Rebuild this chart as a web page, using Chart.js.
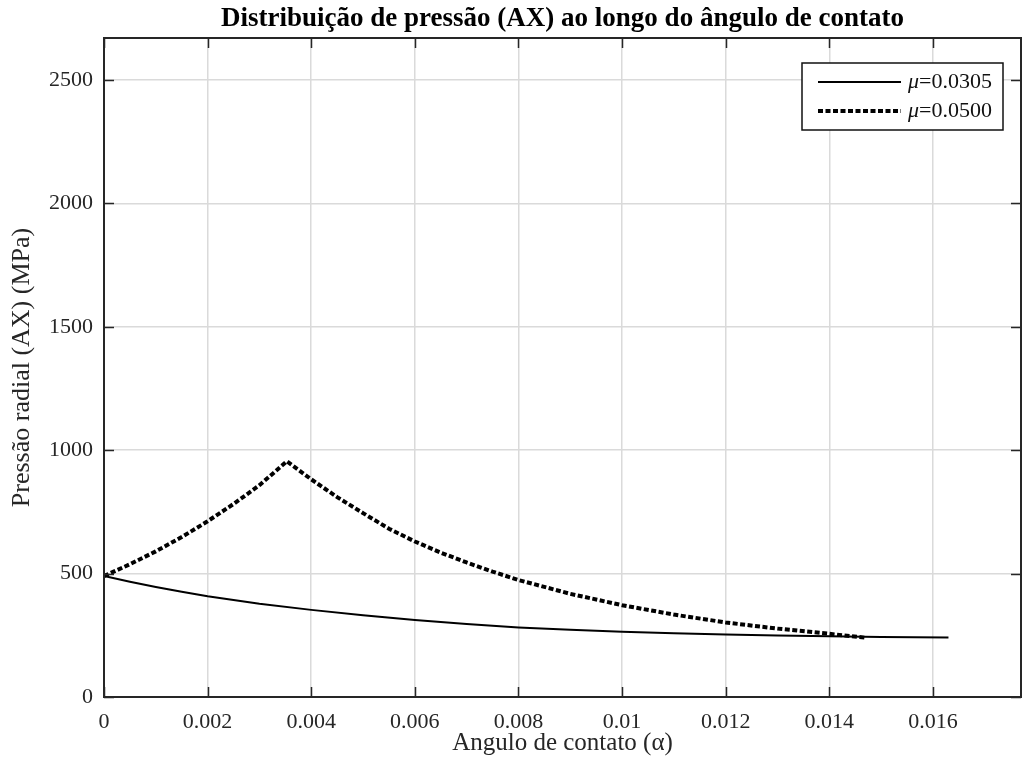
<!DOCTYPE html>
<html>
<head>
<meta charset="utf-8">
<script src="https://cdn.jsdelivr.net/npm/chart.js@4/dist/chart.umd.min.js"></script>
<style>
    html, body { margin: 0; padding: 0; background: #fff; }
    #wrap { width: 1023px; height: 769px; position: relative; }
</style>
</head>
<body>
<div id="wrap"><canvas id="pressChart"></canvas></div>
<script>
// ticks
const xTicks = [0, 0.002, 0.004, 0.006, 0.008, 0.01, 0.012, 0.014, 0.016];
const yTicks = [0, 500, 1000, 1500, 2000, 2500];

// mu = 0.0305 (linha cheia)
const alphaA = [0, 0.0005, 0.001, 0.0015, 0.002, 0.003, 0.004, 0.005, 0.006, 0.007, 0.008, 0.009, 0.010, 0.011, 0.012, 0.013, 0.014, 0.015, 0.0163];
const pressA = [490, 467, 446, 426, 408, 378, 353, 331, 312, 296, 282, 272, 264, 258, 253, 249, 246, 243, 241];

// mu = 0.0500 (pontilhada)
const alphaB = [0, 0.0005, 0.001, 0.0015, 0.002, 0.0025, 0.003, 0.00353, 0.004, 0.0045, 0.005, 0.0055, 0.006, 0.0065, 0.007, 0.0075, 0.008, 0.009, 0.010, 0.011, 0.012, 0.013, 0.014, 0.0147];
const pressB = [490, 538, 590, 648, 712, 782, 858, 955, 882, 810, 745, 682, 630, 585, 545, 508, 474, 418, 372, 334, 302, 277, 256, 240];

const legendLabels = ['0.0305', '0.0500'];

const SERIF = '"Liberation Serif", "Times New Roman", serif';
const INK = '#262626';

const toPoints = (xs, ys) => xs.map((x, i) => ({ x: x, y: ys[i] }));

const fmtX = v => v === 0 ? '0' : String(+v.toFixed(3));

// moldura + marcas de escala para dentro (estilo MATLAB)
const framePlugin = {
    id: 'frame',
    afterDraw(chart) {
        const { ctx, chartArea: a, scales } = chart;
        const len = 10;
        ctx.save();
        ctx.strokeStyle = INK;
        ctx.lineWidth = 1.5;
        ctx.beginPath();
        xTicks.forEach(v => {
            const px = Math.round(scales.x.getPixelForValue(v)) + 0.5;
            ctx.moveTo(px, a.bottom); ctx.lineTo(px, a.bottom - len);
            ctx.moveTo(px, a.top); ctx.lineTo(px, a.top + len);
        });
        yTicks.forEach(v => {
            const py = Math.round(scales.y.getPixelForValue(v)) + 0.5;
            ctx.moveTo(a.left, py); ctx.lineTo(a.left + len, py);
            ctx.moveTo(a.right, py); ctx.lineTo(a.right - len, py);
        });
        ctx.stroke();
        ctx.lineWidth = 2;
        ctx.strokeRect(a.left, a.top, a.right - a.left, a.bottom - a.top);
        ctx.restore();
    }
};

// legenda com mu em italico
const legendPlugin = {
    id: 'muLegend',
    afterDraw(chart) {
        const { ctx, chartArea: a } = chart;
        const w = 201, h = 67;
        const x0 = a.right - 18 - w, y0 = a.top + 25;
        ctx.save();
        ctx.fillStyle = '#fff';
        ctx.fillRect(x0, y0, w, h);
        ctx.strokeStyle = '#111';
        ctx.lineWidth = 1.5;
        ctx.strokeRect(x0, y0, w, h);

        chart.data.datasets.forEach((ds, i) => {
            const y = y0 + 19 + i * 29;
            ctx.beginPath();
            ctx.strokeStyle = ds.borderColor;
            ctx.lineWidth = ds.borderWidth;
            ctx.setLineDash(ds.borderDash || []);
            ctx.moveTo(x0 + 16, y);
            ctx.lineTo(x0 + 99, y);
            ctx.stroke();
            ctx.setLineDash([]);

            ctx.fillStyle = '#111';
            ctx.textBaseline = 'middle';
            ctx.font = 'italic 22px ' + SERIF;
            const tx = x0 + 106;
            ctx.fillText('μ', tx, y);
            const mw = ctx.measureText('μ').width;
            ctx.font = '22px ' + SERIF;
            ctx.fillText('=' + legendLabels[i], tx + mw, y);
        });
        ctx.restore();
    }
};

new Chart(document.getElementById('pressChart'), {
    type: 'line',
    data: {
        datasets: [
            {
                label: 'μ=0.0305',
                data: toPoints(alphaA, pressA),
                borderColor: '#000',
                borderWidth: 2,
                pointRadius: 0,
                tension: 0
            },
            {
                label: 'μ=0.0500',
                data: toPoints(alphaB, pressB),
                borderColor: '#000',
                borderWidth: 4,
                borderDash: [5, 2.5],
                pointRadius: 0,
                tension: 0
            }
        ]
    },
    options: {
        responsive: true,
        maintainAspectRatio: false,
        animation: false,
        layout: { padding: { left: 0, right: 2, top: 0, bottom: 0 } },
        plugins: {
            legend: { display: false },
            tooltip: { enabled: false },
            title: {
                display: true,
                fullSize: false,
                text: 'Distribuição de pressão (AX) ao longo do ângulo de contato',
                color: '#000',
                font: { family: SERIF, size: 27, weight: 'bold' },
                padding: { top: 3, bottom: 2.6 }
            }
        },
        scales: {
            x: {
                type: 'linear',
                min: 0,
                max: 0.0177,
                afterBuildTicks: s => { s.ticks = xTicks.map(v => ({ value: v })); },
                afterFit: s => { s.height = 72; },
                grid: { color: '#dadada', lineWidth: 1.5, drawTicks: false },
                border: { display: false },
                ticks: {
                    padding: 12,
                    color: INK,
                    maxRotation: 0,
                    font: { family: SERIF, size: 22 },
                    callback: v => fmtX(v)
                },
                title: {
                    display: true,
                    text: 'Angulo de contato (α)',
                    color: INK,
                    font: { family: SERIF, size: 25 },
                    padding: { top: 0, bottom: 11 }
                }
            },
            y: {
                min: 0,
                max: 2670,
                afterBuildTicks: s => { s.ticks = yTicks.map(v => ({ value: v })); },
                afterFit: s => { s.width = 104; },
                grid: { color: '#dadada', lineWidth: 1.5, drawTicks: false },
                border: { display: false },
                ticks: {
                    padding: 11,
                    color: INK,
                    font: { family: SERIF, size: 22 },
                    callback: v => String(v)
                },
                title: {
                    display: true,
                    text: 'Pressão radial (AX) (MPa)',
                    color: INK,
                    font: { family: SERIF, size: 26 },
                    padding: { top: 7, bottom: 0 }
                }
            }
        }
    },
    plugins: [framePlugin, legendPlugin]
});
</script>
</body>
</html>
